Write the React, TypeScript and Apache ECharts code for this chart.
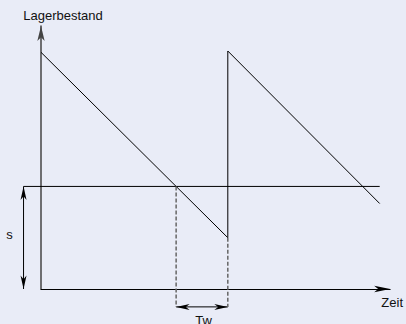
import React, { useEffect, useRef } from 'react';
import * as echarts from 'echarts';

// Inventory (Lagerbestand) over time (Zeit): sawtooth points
const stockPoints: [number, number][] = [
  [0, 90],
  [53.5, 19.5],
  [53.5, 90.5],
  [97, 32.5],
];
// Reorder level s
const reorderLevel = 39;
const reorderLineX: number[] = [-5, 97];
// Lead time Tw: from reaching s until delivery
const leadTimeStart = 38.7;
const leadTimeEnd = 53.5;
const stockAtDelivery = 19.5;
const dimensionY = -6.8; // level of the Tw dimension arrow (below the time axis)
const dimensionX = -5; // position of the s dimension arrow (left of the stock axis)
const axisNames: string[] = ['Zeit', 'Lagerbestand'];
const dimLabels: string[] = ['s', 'Tw'];

const FONT = 'Liberation Sans, Arial, Helvetica, sans-serif';

function arrowHead(tip: number[], from: number[], len: number, half: number): number[][] {
  const dx = tip[0] - from[0];
  const dy = tip[1] - from[1];
  const d = Math.sqrt(dx * dx + dy * dy) || 1;
  const ux = dx / d;
  const uy = dy / d;
  const nx = -uy;
  const ny = ux;
  return [
    [tip[0], tip[1]],
    [tip[0] - ux * len + nx * half, tip[1] - uy * len + ny * half],
    [tip[0] - ux * len * 0.72, tip[1] - uy * len * 0.72],
    [tip[0] - ux * len - nx * half, tip[1] - uy * len - ny * half],
  ];
}

export default function App() {
  const ref = useRef<HTMLDivElement>(null);

  useEffect(() => {
    if (!ref.current) return;
    const chart = echarts.init(ref.current, null, { renderer: 'svg' });
    const textStyle = { fontFamily: FONT, fontSize: 13, fill: '#111' };

    const option: any = {
      animation: false,
      backgroundColor: '#E9ECF7',
      grid: { left: 41, right: 15, top: 26, bottom: 35, containLabel: false },
      xAxis: {
        type: 'value',
        min: 0,
        max: 100,
        name: axisNames[0],
        nameLocation: 'end',
        nameGap: 2,
        nameTextStyle: {
          fontFamily: FONT,
          fontSize: 13,
          color: '#111',
          align: 'center',
          verticalAlign: 'top',
          padding: [7, 0, 0, 0],
        },
        axisLine: {
          show: true,
          onZero: false,
          symbol: ['none', 'arrow'],
          symbolSize: [5, 16],
          lineStyle: { color: '#000', width: 1 },
        },
        axisTick: { show: false },
        axisLabel: { show: false },
        splitLine: { show: false },
      },
      yAxis: {
        type: 'value',
        min: 0,
        max: 100,
        name: axisNames[1],
        nameLocation: 'end',
        nameGap: 4,
        nameTextStyle: {
          fontFamily: FONT,
          fontSize: 13,
          color: '#111',
          align: 'center',
          padding: [0, 0, 0, 44],
        },
        axisLine: {
          show: true,
          onZero: false,
          symbol: ['none', 'arrow'],
          symbolSize: [5.5, 15],
          lineStyle: { color: '#444', width: 1.5 },
        },
        axisTick: { show: false },
        axisLabel: { show: false },
        splitLine: { show: false },
      },
      series: [
        {
          type: 'line',
          data: stockPoints,
          symbol: 'none',
          clip: false,
          silent: true,
          lineStyle: { color: '#000', width: 1 },
        },
        {
          type: 'line',
          data: [
            [leadTimeStart, reorderLevel],
            [leadTimeStart, dimensionY],
          ],
          symbol: 'none',
          clip: false,
          silent: true,
          lineStyle: { color: '#666', width: 1.5, type: [4, 2] },
        },
        {
          type: 'line',
          data: [
            [leadTimeEnd, stockAtDelivery],
            [leadTimeEnd, dimensionY],
          ],
          symbol: 'none',
          clip: false,
          silent: true,
          lineStyle: { color: '#666', width: 1.5, type: [4, 2] },
        },
        {
          // reorder level line s
          type: 'custom',
          clip: false,
          silent: true,
          encode: { x: [0, 2], y: [1, 3] },
          data: [[reorderLineX[0], reorderLevel, reorderLineX[1], reorderLevel]],
          renderItem: (params: any, api: any) => {
            const p1 = api.coord([api.value(0), api.value(1)]);
            const p2 = api.coord([api.value(2), api.value(3)]);
            return {
              type: 'line',
              shape: { x1: p1[0], y1: p1[1], x2: p2[0], y2: p2[1] },
              style: { stroke: '#000', lineWidth: 1 },
            };
          },
        },
        {
          // dimension arrows s and Tw
          type: 'custom',
          clip: false,
          silent: true,
          encode: { x: [0, 2], y: [1, 3] },
          data: [
            [dimensionX, reorderLevel, dimensionX, 0],
            [leadTimeStart, dimensionY, leadTimeEnd, dimensionY],
          ],
          renderItem: (params: any, api: any) => {
            const p1 = api.coord([api.value(0), api.value(1)]);
            const p2 = api.coord([api.value(2), api.value(3)]);
            const idx = params.dataIndex;
            const mid = [(p1[0] + p2[0]) / 2, (p1[1] + p2[1]) / 2];
            const label =
              idx === 0
                ? {
                    type: 'text',
                    x: mid[0] - 14,
                    y: mid[1] - 3,
                    style: { ...textStyle, text: dimLabels[0], align: 'center', verticalAlign: 'middle' },
                  }
                : {
                    type: 'text',
                    x: mid[0] + 1.5,
                    y: mid[1] + 7,
                    style: { ...textStyle, text: dimLabels[1], align: 'center', verticalAlign: 'top' },
                  };
            return {
              type: 'group',
              children: [
                {
                  type: 'line',
                  shape: { x1: p1[0], y1: p1[1], x2: p2[0], y2: p2[1] },
                  style: { stroke: '#000', lineWidth: 1 },
                },
                {
                  type: 'polygon',
                  shape: { points: arrowHead(p1, p2, 13.5, 3) },
                  style: { fill: '#000' },
                },
                {
                  type: 'polygon',
                  shape: { points: arrowHead(p2, p1, 13.5, 3) },
                  style: { fill: '#000' },
                },
                label,
              ],
            };
          },
        },
      ],
    };
    chart.setOption(option);

    return () => chart.dispose();
  }, []);

  return (
    <div
      ref={ref}
      style={{ position: 'absolute', left: 0, top: 0, width: 406, height: 324 }}
    />
  );
}
